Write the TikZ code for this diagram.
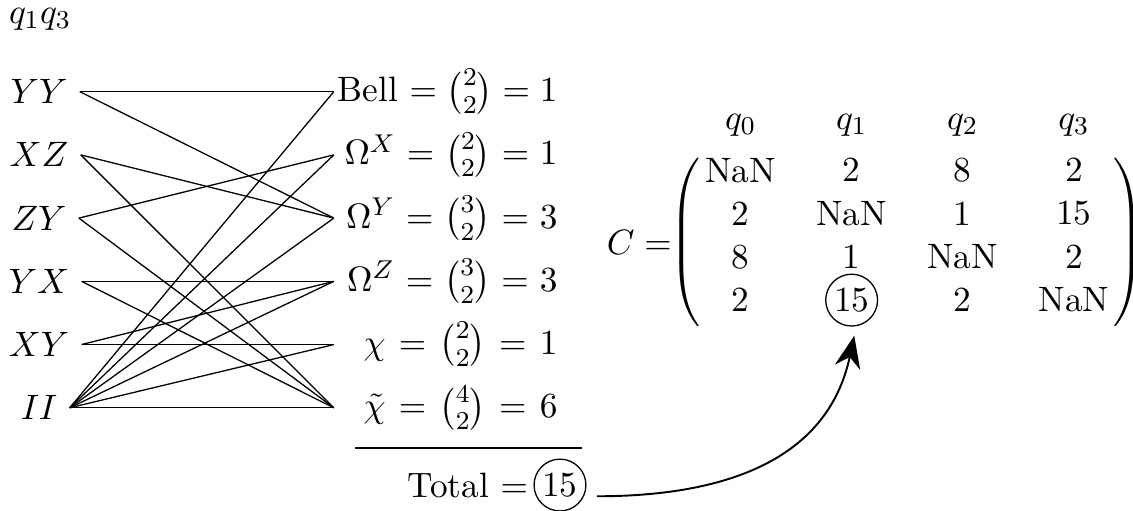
\documentclass[tikz,border=0pt,11pt]{standalone}
\usepackage{amsmath, amssymb}
\usepackage{tikz}
\usetikzlibrary{arrows.meta, positioning, matrix}

\begin{document}
\begin{tikzpicture}[
    pair/.style={text width=2.4cm, align=right, inner xsep=1pt},
    ring/.style={draw, circle, inner sep=1pt},
    every delimiter/.style={inner xsep=0pt}]
    \useasboundingbox (0,0) rectangle (12.364,-5.566);
    \node[inner sep=1pt] (qq) at (0.437,-0.21) {$q_1q_3$};

    \node (yy) at (0.426,-1.00) {$YY$};
    \node (xz) at (0.426,-1.69) {$XZ$};
    \node (zy) at (0.426,-2.38) {$ZY$};
    \node (yx) at (0.426,-3.07) {$YX$};
    \node (xy) at (0.426,-3.76) {$XY$};
    \node (ii) at (0.426,-4.45) {$II$};

    \node[pair] (bell) at (4.885,-1.00) {Bell $=\binom{2}{2}=1$};
    \node[pair] (omx)  at (4.885,-1.69) {$\Omega^X=\binom{2}{2}=1$};
    \node[pair] (omy)  at (4.885,-2.38) {$\Omega^Y=\binom{3}{2}=3$};
    \node[pair] (omz)  at (4.885,-3.07) {$\Omega^Z=\binom{3}{2}=3$};
    \node[pair] (chi)  at (4.885,-3.76) {$\chi=\binom{2}{2}=1$};
    \node[pair] (chit) at (4.885,-4.45) {$\tilde{\chi}=\binom{4}{2}=6$};

    \foreach \a/\b in {yy/bell, yy/omy, xz/omy, xz/chit, zy/omx, zy/chit,
                       yx/omz, yx/chit, xy/omz, xy/chi,
                       ii/bell, ii/omx, ii/omy, ii/omz, ii/chi, ii/chit}
      \draw (\a.east) -- (\b.west);

    \draw[semithick] (3.874,-4.889) -- (6.351,-4.889);
    \node[ring] (tot) at (6.111,-5.293) {15};
    \node[inner sep=0pt, left=1.5pt of tot] (total) {Total $=$};

    \matrix[matrix of nodes, inner sep=0pt, nodes={anchor=center, inner sep=0pt},
            column sep={34.5pt,between origins}, row sep={13.45pt,between origins},
            left delimiter=(, right delimiter=)] (mat) at (9.90,-2.644) {
      NaN & 2   & 8   & 2   \\
      2   & NaN & 1   & 15  \\
      8   & 1   & NaN & 2   \\
      2   & |[ring]| 15 & 2 & NaN \\
    };
    \foreach \c/\q in {1/0, 2/1, 3/2, 4/3}
      \node (q\q) at ([yshift=14pt]mat-1-\c) {$q_\q$};
    \node[inner sep=0pt, left=10pt of mat] (ceq) {$C=$};

    \draw[-{Stealth[length=10pt, width=8pt]}, semithick, shorten <=4pt, shorten >=3pt]
          (tot.-25) to[out=0, in=-102, looseness=1.1] (mat-4-2.-80);
\end{tikzpicture}
\end{document}
